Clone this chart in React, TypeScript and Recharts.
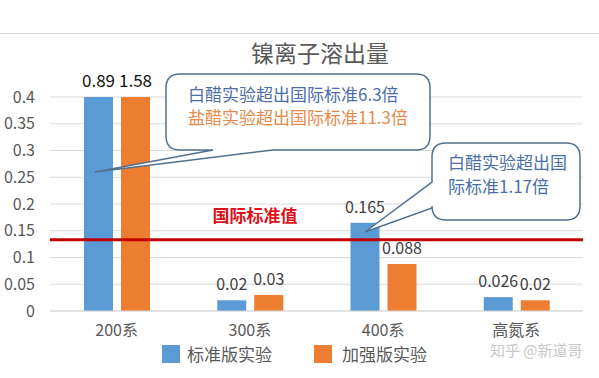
import { BarChart, Bar, XAxis, YAxis, CartesianGrid, ReferenceLine, LabelList, Legend } from "recharts"

const categories = ["200系", "300系", "400系", "高氮系"]
const standardValues = [0.89, 0.02, 0.165, 0.026]
const enhancedValues = [1.58, 0.03, 0.088, 0.02]
const yTicks = [0, 0.05, 0.1, 0.15, 0.2, 0.25, 0.3, 0.35, 0.4]
const limitValue = 0.133

const data = categories.map((name, i) => ({
  name,
  standard: standardValues[i],
  enhanced: enhancedValues[i],
}))

const FONT = '"Noto Sans CJK SC", "Noto Sans", sans-serif'
const PLOT_TOP = 97

const ValueLabel = (props: any) => {
  const { x, y, width, value } = props
  const big = value > 0.4
  const top = Math.max(y, PLOT_TOP)
  return (
    <text
      x={x + width / 2}
      y={top - 10}
      textAnchor="middle"
      fontSize={big ? 17 : 16}
      fill={big ? "#111" : "#404040"}
      fontFamily={FONT}
    >
      {value}
    </text>
  )
}

const LimitLabel = (props: any) => {
  const { viewBox } = props
  return (
    <text
      x={viewBox.x + 205}
      y={viewBox.y - 18}
      textAnchor="middle"
      fontSize={17}
      fontWeight="bold"
      fill="#e0101a"
      fontFamily={FONT}
    >
      国际标准值
    </text>
  )
}

const LegendContent = () => (
  <div style={{ display: "flex", justifyContent: "center", gap: 42, fontFamily: FONT, fontSize: 17, color: "#595959", paddingLeft: 6 }}>
    <div style={{ display: "flex", alignItems: "center" }}>
      <span style={{ width: 18, height: 18, background: "#5b9bd5", marginRight: 7 }} />
      标准版实验
    </div>
    <div style={{ display: "flex", alignItems: "center" }}>
      <span style={{ width: 18, height: 18, background: "#ed7d31", marginRight: 10 }} />
      加强版实验
    </div>
  </div>
)

// rounded callout boxes with pointer tails
const box1 = () => {
  const x0 = 166, y0 = 74, x1 = 430, y1 = 150, r = 14
  return `M${x0 + r},${y0} H${x1 - r} Q${x1},${y0} ${x1},${y0 + r} V${y1 - r} Q${x1},${y1} ${x1 - r},${y1} H273 L95,172 L213,${y1} H${x0 + r} Q${x0},${y1} ${x0},${y1 - r} V${y0 + r} Q${x0},${y0} ${x0 + r},${y0} Z`
}

const box2 = () => {
  const x0 = 432, y0 = 143, x1 = 580, y1 = 220, r = 14
  return `M${x0 + r},${y0} H${x1 - r} Q${x1},${y0} ${x1},${y0 + r} V${y1 - r} Q${x1},${y1} ${x1 - r},${y1} H${x0 + r} Q${x0},${y1} ${x0},${y1 - r} V208 L365,232 L${x0},182 V${y0 + r} Q${x0},${y0} ${x0 + r},${y0} Z`
}

export default function App() {
  return (
    <div style={{ position: "fixed", left: 0, top: 0, width: 599, height: 378, background: "#fff", fontFamily: FONT }}>
      <div style={{ position: "absolute", left: 0, top: 33, width: 599, height: 1, background: "#d9d9d9" }} />
      <div style={{ position: "absolute", left: 0, top: 35, width: 640, textAlign: "center", fontSize: 23, color: "#595959" }}>
        镍离子溶出量
      </div>
      <BarChart
        width={599}
        height={378}
        data={data}
        margin={{ top: PLOT_TOP, right: 16, left: 0, bottom: 12 }}
        barGap={8}
        barSize={29}
      >
        <CartesianGrid vertical={false} stroke="#d9d9d9" />
        <XAxis
          dataKey="name"
          axisLine={{ stroke: "#d9d9d9" }}
          tickLine={false}
          height={30}
          tick={{ fontSize: 16, fill: "#595959", fontFamily: FONT }}
          tickMargin={8}
        />
        <YAxis
          domain={[0, 0.4]}
          ticks={yTicks}
          allowDataOverflow
          width={50}
          axisLine={false}
          tickLine={false}
          tick={{ fontSize: 16, fill: "#595959", fontFamily: FONT }}
          tickMargin={9}
        />
        <Legend verticalAlign="bottom" content={<LegendContent />} />
        <Bar dataKey="standard" name="标准版实验" fill="#5b9bd5" isAnimationActive={false}>
          <LabelList dataKey="standard" content={<ValueLabel />} />
        </Bar>
        <Bar dataKey="enhanced" name="加强版实验" fill="#ed7d31" isAnimationActive={false}>
          <LabelList dataKey="enhanced" content={<ValueLabel />} />
        </Bar>
        <ReferenceLine y={limitValue} stroke="#c00000" strokeWidth={3} label={<LimitLabel />} />
      </BarChart>
      <svg width={599} height={378} style={{ position: "absolute", left: 0, top: 0, pointerEvents: "none" }}>
        <path d={box1()} fill="#fff" stroke="#52708f" strokeWidth={1.5} />
        <text x={188} y={101} fontSize={17} fill="#4a6ea8" fontFamily={FONT}>白醋实验超出国际标准6.3倍</text>
        <text x={188} y={124} fontSize={17} fill="#e6894a" fontFamily={FONT}>盐醋实验超出国际标准11.3倍</text>
        <path d={box2()} fill="#fff" stroke="#52708f" strokeWidth={1.5} />
        <text x={448} y={169} fontSize={17} fill="#4a6ea8" fontFamily={FONT}>白醋实验超出国</text>
        <text x={448} y={193} fontSize={17} fill="#4a6ea8" fontFamily={FONT}>际标准1.17倍</text>
        <text x={490} y={356} fontSize={15} fill="#c8c8c8" fontFamily={FONT}>知乎 @新道哥</text>
      </svg>
    </div>
  )
}
